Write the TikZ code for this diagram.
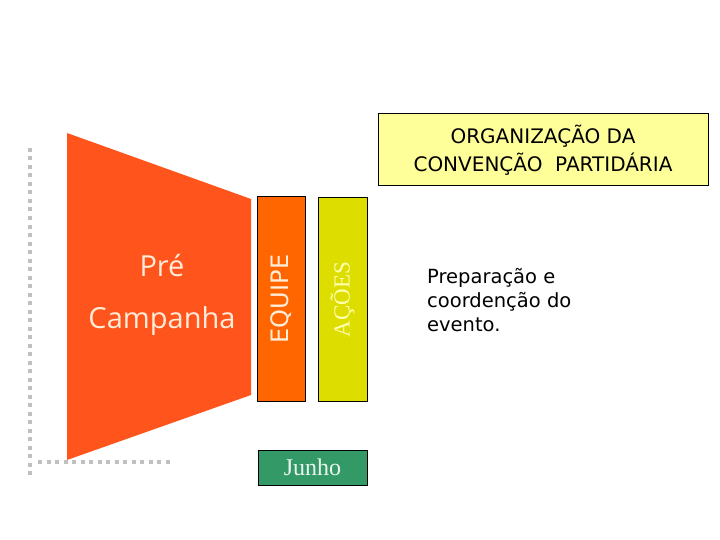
\documentclass[tikz,border=0pt]{standalone}
\usepackage{fontspec}
\setmainfont{Liberation Serif}
\setsansfont{DejaVu Sans}
\newfontfamily\segoe{Open Sans}
\usepackage{tikz}
\usetikzlibrary{positioning}

\definecolor{preorange}{RGB}{255,84,28}
\definecolor{teamorange}{RGB}{255,102,0}
\definecolor{actyellow}{RGB}{221,221,0}
\definecolor{junegreen}{RGB}{51,153,102}
\definecolor{notepaper}{RGB}{255,255,153}
\definecolor{dotgray}{RGB}{192,192,192}

\begin{document}
\begin{tikzpicture}[x=1bp, y=-1bp,
    column/.style={rectangle, draw=black, line width=1bp, inner sep=0pt, rotate=90,
        minimum width=204bp, minimum height=48bp},
    monthbox/.style={rectangle, draw=black, line width=1bp, fill=junegreen, inner sep=0pt,
        minimum width=109bp, minimum height=35bp},
    notebox/.style={rectangle, draw=black, line width=1bp, fill=notepaper, inner sep=0pt,
        minimum width=330bp, minimum height=72bp, align=center},
    phase/.style={inner sep=0pt, anchor=base, text=white!85!orange,
        font=\segoe\fontsize{29bp}{34bp}\selectfont},
    frame/.style={dotgray, line width=4bp, dash pattern=on 4bp off 4.5bp}]
    \useasboundingbox (0,0) rectangle (720,540);

    % dotted frame
    \draw[frame] (30,148) -- (30,476);
    \draw[frame] (38,462) -- (172,462);

    % funnel
    \fill[preorange] (67,133) -- (251,199) -- (251,395) -- (67,460) -- cycle;
    \node[phase] (pre) at (162,277) {Pré};
    \node[phase] (camp) at (162,328) {Campanha};

    % columns
    \node[column, fill=teamorange, text=white!85!orange,
        font=\sffamily\fontsize{24bp}{28bp}\selectfont] (equipe) at (281,299) {EQUIPE};
    \node[column, fill=actyellow, minimum height=49bp, text=notepaper!80!white,
        font=\rmfamily\fontsize{23bp}{28bp}\selectfont] (acoes) at (342.5,299.5) {AÇÕES};
    \node[monthbox, text=white!90!junegreen,
        font=\rmfamily\fontsize{24bp}{28bp}\selectfont] (junho) at (312.5,467.5) {Junho};

    \node[notebox, font=\sffamily\fontsize{20bp}{28bp}\selectfont]
        (org) at (543,150) {ORGANIZAÇÃO DA\\CONVENÇÃO\ \ PARTIDÁRIA};
    \node[inner sep=0pt, anchor=north west, align=left,
        font=\sffamily\fontsize{19.5bp}{24bp}\selectfont]
        (prep) at (427,268) {Preparação e\\coordenção do\\evento.};
\end{tikzpicture}
\end{document}
